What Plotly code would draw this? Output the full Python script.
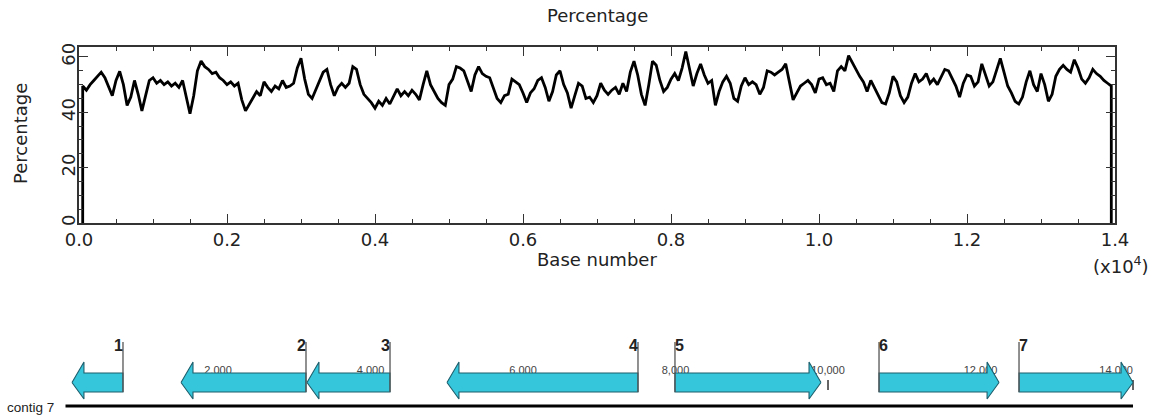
import plotly.graph_objects as go

# ---------------- GC percentage trace (values read every 50 bases) ----------------
seg1 = [49.5, 48.0, 50.0, 51.5, 53.0, 54.5, 52.5, 49.5, 46.0, 51.5,
        54.8, 50.0, 42.5, 45.5, 51.5, 46.5, 40.5, 46.0, 51.5, 52.5,
        50.5, 51.5, 50.0, 51.0, 49.5, 50.5, 49.0, 51.5, 45.0, 39.5,
        46.0, 55.0, 58.5, 56.5, 55.5, 54.0, 54.5, 52.5, 51.5, 50.0,
        51.0, 49.5, 50.5, 44.5, 40.5, 43.0, 45.5, 47.5, 46.0, 51.0,
        49.0, 47.5, 49.5, 48.5, 51.5, 49.0, 49.5, 50.5, 56.0, 59.5,
        52.0, 46.5, 45.0, 48.0, 51.0, 54.5, 55.5, 50.0, 46.0, 49.0,
        50.5, 49.0, 50.5, 56.5, 55.5, 50.0, 46.5, 45.0]
seg2 = [43.5, 41.5, 44.0, 42.5, 45.0, 43.0, 45.5, 48.5, 46.0, 47.5,
        46.0, 48.0, 46.5, 44.5, 50.0, 55.0, 50.0, 47.5, 45.0, 43.5,
        42.5, 50.0, 52.0, 56.5, 56.0, 55.0, 51.5, 47.5, 53.5, 56.5,
        54.0, 53.0, 52.5]
seg3 = [48.5, 45.0, 43.5, 46.0, 46.5, 52.0, 51.0, 50.0, 47.0, 43.5,
        47.0, 48.5, 51.5, 52.5, 49.0, 44.0, 47.5, 53.5, 55.0, 50.0,
        47.0, 41.5, 46.0, 50.5, 49.5, 45.0, 45.5, 43.5, 46.0, 50.5,
        48.0, 46.5, 48.0, 49.0, 46.5, 50.5, 47.5, 54.5, 58.5, 53.5,
        46.5, 42.5, 50.0, 58.5, 57.0, 51.5, 47.5, 49.0, 52.0, 54.0,
        51.5, 56.0, 62.0, 56.0, 49.5]
seg4 = [54.0, 57.5, 53.5, 50.5, 51.5, 42.5, 47.5, 51.0, 53.0, 50.5,
        45.0, 44.0, 49.5, 52.5, 50.0, 51.0, 50.0, 46.5, 49.0, 55.0,
        54.5, 53.5, 54.5, 55.5, 57.5, 50.5, 44.5, 47.0, 49.5, 50.5,
        51.5, 50.0, 47.0, 52.0, 52.5, 50.0, 50.5, 47.5, 55.0, 56.5,
        55.0, 60.5, 58.0, 55.0, 53.0, 51.0, 47.5, 51.5, 49.0, 46.0,
        43.5, 43.0, 47.0, 53.0, 51.0, 46.0]
seg5 = [43.5, 45.5, 50.5, 54.0, 51.0, 52.0, 54.0, 50.5, 52.0, 50.0,
        53.0, 55.5, 55.0, 52.0, 49.5, 45.5, 50.5, 53.5, 53.0, 49.5,
        51.0, 57.5, 53.5, 49.5, 51.0, 55.5, 59.5, 54.5, 49.5, 47.0,
        44.0, 43.0, 45.5, 51.0, 55.0, 50.0, 47.5, 54.0, 50.0, 44.0,
        46.5, 53.0, 55.5, 57.0, 55.5, 54.5, 59.0, 56.0, 52.0, 50.5,
        52.5, 55.5, 54.0, 53.0, 51.5, 50.5, 49.5]
gc_percent = seg1 + seg2 + seg3 + seg4 + seg5
window_step = 50
base_pos = [window_step * (i + 1) for i in range(len(gc_percent))]

x_tick_vals = [0, 2000, 4000, 6000, 8000, 10000, 12000, 14000]
x_tick_text = ["0.0", "0.2", "0.4", "0.6", "0.8", "1.0", "1.2", "1.4"]
y_tick_vals = [0, 20, 40, 60]

# ---------------- gene map ----------------
gene_names = ["1", "2", "3", "4", "5", "6", "7"]
gene_left = [85, 1515, 3167, 5003, 7993, 10669, 12505]
gene_right = [754, 3154, 4256, 7508, 9908, 12243, 14000]
gene_strand = ["-", "-", "-", "-", "+", "+", "+"]
ruler_bp = [2000, 4000, 6000, 8000, 10000, 12000, 14000]
ruler_text = ["2,000", "4,000", "6,000", "8,000", "10,000", "12,000", "14,000"]
contig_len = 14000
contig_name = "contig 7"

W, H = 1152, 419
FONT = "DejaVu Sans"
AX = "#333333"

fig = go.Figure()

# GC trace (starts and ends at 0 like the original window plot)
fig.add_trace(go.Scatter(
    x=[base_pos[0]] + base_pos + [base_pos[-1]],
    y=[0] + gc_percent + [0],
    mode="lines", line=dict(color="black", width=2.8),
    xaxis="x", yaxis="y", showlegend=False, hoverinfo="skip"))

# map geometry (y in pixels above figure bottom)
BODY_T, BODY_B, HEAD_T, HEAD_B = 46, 27, 57, 20
MID = (BODY_T + BODY_B) / 2
LINE_T = 77
HEAD_LEN = 157

# ruler ticks (under arrows)
for bp in ruler_bp:
    fig.add_trace(go.Scatter(x=[bp, bp], y=[29, 39], mode="lines",
                             line=dict(color="#222", width=1.4),
                             xaxis="x2", yaxis="y2", showlegend=False, hoverinfo="skip"))
# ruler labels (under arrows)
fig.add_trace(go.Scatter(
    x=ruler_bp, y=[48] * len(ruler_bp), mode="text", text=ruler_text,
    textposition=["middle center"] * (len(ruler_bp) - 1) + ["middle left"],
    textfont=dict(family="Liberation Sans", size=11, color="#444"),
    xaxis="x2", yaxis="y2", showlegend=False, hoverinfo="skip"))

# arrows
for L, R, s in zip(gene_left, gene_right, gene_strand):
    h = min(HEAD_LEN, R - L)
    if s == "-":
        xs = [L, L + h, L + h, R, R, L + h, L + h, L]
    else:
        xs = [R, R - h, R - h, L, L, R - h, R - h, R]
    ys = [MID, HEAD_T, BODY_T, BODY_T, BODY_B, BODY_B, HEAD_B, MID]
    fig.add_trace(go.Scatter(
        x=xs, y=ys, mode="lines", fill="toself",
        fillcolor="#35c6db", line=dict(color="#1d5e6c", width=1.1),
        xaxis="x2", yaxis="y2", showlegend=False, hoverinfo="skip"))

# gene start lines and numbers
starts = [R if s == "-" else L for L, R, s in zip(gene_left, gene_right, gene_strand)]
for xs0 in starts:
    fig.add_trace(go.Scatter(x=[xs0, xs0], y=[BODY_B, LINE_T], mode="lines",
                             line=dict(color="#555", width=1.3),
                             xaxis="x2", yaxis="y2", showlegend=False, hoverinfo="skip"))
fig.add_trace(go.Scatter(
    x=starts, y=[72] * len(gene_names), mode="text", text=gene_names,
    textposition=["middle left" if s == "-" else "middle right" for s in gene_strand],
    textfont=dict(family="Liberation Sans Narrow, Liberation Sans", size=16, color="#222", weight="bold"),
    xaxis="x2", yaxis="y2", showlegend=False, hoverinfo="skip"))

# contig line
fig.add_trace(go.Scatter(x=[0, contig_len], y=[13, 13], mode="lines",
                         line=dict(color="black", width=3),
                         xaxis="x2", yaxis="y2", showlegend=False, hoverinfo="skip"))

tick_font = dict(family=FONT, size=18, color="#222")
fig.update_layout(
    width=W, height=H, autosize=False,
    margin=dict(l=0, r=0, t=0, b=0, pad=0),
    paper_bgcolor="white", plot_bgcolor="rgba(0,0,0,0)",
    xaxis=dict(domain=[79 / W, 1115 / W], range=[0, 14000], anchor="y", automargin=False,
               tickmode="array", tickvals=x_tick_vals, ticktext=x_tick_text,
               ticks="inside", ticklen=9, tickwidth=1.3, tickcolor=AX,
               showline=True, linecolor=AX, linewidth=1.6, mirror="ticks",
               showgrid=False, zeroline=False, tickfont=tick_font,
               ticklabelstandoff=0,
               minor=dict(tickmode="linear", tick0=0, dtick=500, ticks="inside",
                          ticklen=4.5, tickwidth=1.2, tickcolor=AX, showgrid=False)),
    yaxis=dict(domain=[1 - 223 / H, 1 - 47 / H], range=[0, 63.6], anchor="x", automargin=False,
               tickmode="array", tickvals=y_tick_vals, tickangle=-90,
               ticks="inside", ticklen=9, tickwidth=1.3, tickcolor=AX,
               showline=True, linecolor=AX, linewidth=1.6, mirror="ticks",
               showgrid=False, zeroline=False, tickfont=tick_font,
               ticklabelstandoff=-5,
               minor=dict(tickmode="linear", tick0=0, dtick=5, ticks="inside",
                          ticklen=4.5, tickwidth=1.2, tickcolor=AX, showgrid=False)),
    xaxis2=dict(domain=[0, 1], range=[-859, 14249], anchor="y2", visible=False,
                fixedrange=True, automargin=False),
    yaxis2=dict(domain=[0, 0.3], range=[0, 0.3 * H], anchor="x2", visible=False,
                fixedrange=True, automargin=False),
    annotations=[
        dict(text="Percentage", x=597 / W, y=1 - 15.5 / H, xref="paper", yref="paper",
             xanchor="center", yanchor="middle", showarrow=False,
             font=dict(family=FONT, size=18, color="#222")),
        dict(text="Percentage", x=20 / W, y=1 - 134 / H, xref="paper", yref="paper",
             xanchor="center", yanchor="middle", showarrow=False, textangle=-90,
             font=dict(family=FONT, size=18, color="#222")),
        dict(text="Base number", x=597 / W, y=1 - 259 / H, xref="paper", yref="paper",
             xanchor="center", yanchor="middle", showarrow=False,
             font=dict(family=FONT, size=18, color="#222")),
        dict(text="(x10<sup>4</sup>)", x=1151 / W, y=1 - 265 / H, xref="paper", yref="paper",
             xanchor="right", yanchor="middle", showarrow=False,
             font=dict(family=FONT, size=18, color="#222")),
        dict(text=contig_name, x=5 / W, y=1 - 407 / H, xref="paper", yref="paper",
             xanchor="left", yanchor="middle", showarrow=False,
             font=dict(family="Liberation Sans", size=13.5, color="#222")),
    ],
)

fig.write_html("out.html")
